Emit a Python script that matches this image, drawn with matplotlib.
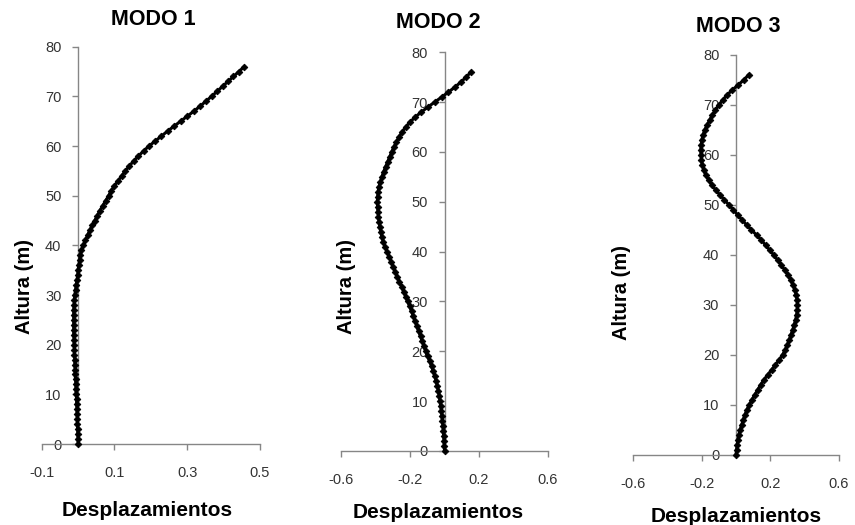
import numpy as np
import matplotlib
matplotlib.use("Agg")
import matplotlib.pyplot as plt

plt.rcParams['font.family'] = ['Liberation Sans', 'DejaVu Sans']

# alturas (m)
altura = list(range(77))

# desplazamientos modales
modo1 = [0.000, -0.000, -0.001, -0.001, -0.002, -0.002, -0.003, -0.003, -0.004, -0.004,
         -0.005, -0.006, -0.006, -0.007, -0.008, -0.008, -0.009, -0.009, -0.010, -0.010,
         -0.011, -0.011, -0.012, -0.012, -0.012, -0.012, -0.012, -0.012, -0.011, -0.010,
         -0.009, -0.007, -0.005, -0.003, -0.001, 0.000, 0.002, 0.004, 0.006, 0.009,
         0.014, 0.020, 0.026, 0.032, 0.039, 0.046, 0.053, 0.060, 0.068, 0.076,
         0.084, 0.091, 0.100, 0.110, 0.120, 0.130, 0.141, 0.153, 0.166, 0.180,
         0.195, 0.212, 0.229, 0.246, 0.264, 0.282, 0.300, 0.318, 0.335, 0.351,
         0.367, 0.382, 0.397, 0.412, 0.427, 0.442, 0.457]

modo2 = [0.000, -0.001, -0.003, -0.005, -0.007, -0.009, -0.012, -0.015, -0.018, -0.022,
         -0.026, -0.030, -0.035, -0.041, -0.048, -0.056, -0.065, -0.075, -0.086, -0.098,
         -0.109, -0.119, -0.129, -0.139, -0.150, -0.160, -0.170, -0.180, -0.191, -0.202,
         -0.213, -0.225, -0.237, -0.249, -0.261, -0.273, -0.285, -0.297, -0.309, -0.321,
         -0.333, -0.345, -0.355, -0.363, -0.370, -0.375, -0.379, -0.383, -0.386, -0.388,
         -0.389, -0.388, -0.385, -0.380, -0.372, -0.363, -0.353, -0.342, -0.330, -0.318,
         -0.306, -0.293, -0.279, -0.264, -0.246, -0.225, -0.200, -0.170, -0.135, -0.097,
         -0.057, -0.017, 0.022, 0.060, 0.094, 0.125, 0.152]

modo3 = [0.000, 0.003, 0.007, 0.011, 0.016, 0.024, 0.033, 0.042, 0.052, 0.063,
         0.077, 0.092, 0.109, 0.126, 0.143, 0.162, 0.184, 0.207, 0.229, 0.251,
         0.271, 0.286, 0.299, 0.310, 0.320, 0.330, 0.339, 0.347, 0.353, 0.357,
         0.358, 0.356, 0.351, 0.343, 0.332, 0.318, 0.302, 0.284, 0.264, 0.242,
         0.220, 0.196, 0.172, 0.147, 0.120, 0.090, 0.062, 0.036, 0.010, -0.015,
         -0.040, -0.067, -0.093, -0.118, -0.141, -0.160, -0.176, -0.188, -0.196, -0.201,
         -0.204, -0.205, -0.203, -0.199, -0.192, -0.182, -0.168, -0.153, -0.138, -0.120,
         -0.100, -0.077, -0.052, -0.022, 0.012, 0.045, 0.073]

titulos = ['MODO 1', 'MODO 2', 'MODO 3']
xticks = [[-0.1, 0.1, 0.3, 0.5], [-0.6, -0.2, 0.2, 0.6], [-0.6, -0.2, 0.2, 0.6]]
xlims = [(-0.1, 0.5), (-0.6, 0.6), (-0.6, 0.6)]
yticks = list(range(0, 81, 10))

W, H = 855, 525
# (left, top, right, bottom) del area de trazado en pixeles
rects = [(41.7, 46.7, 260, 444), (341, 52.3, 548, 451), (633, 55, 839, 455)]
title_pos = [(153, 19.5), (438, 22), (738, 26)]
xlab_pos = [(147, 510), (438, 512), (736, 517)]
ylab_pos = [(25, 287), (346, 286), (621, 292)]

fig = plt.figure(figsize=(W / 100, H / 100), dpi=100)
spine_col = '#868686'
text_col = '#333333'

for i, datos in enumerate([modo1, modo2, modo3]):
    l, t, r, b = rects[i]
    ax = fig.add_axes([l / W, 1 - b / H, (r - l) / W, (b - t) / H])
    ax.plot(datos, altura, color='black', lw=2.2, marker='D', markersize=3.4,
            markeredgewidth=0.6, clip_on=False, zorder=3)
    ax.set_xlim(*xlims[i])
    ax.set_ylim(0, 80)
    ax.set_xticks(xticks[i])
    ax.set_xticklabels(['%g' % v for v in xticks[i]])
    ax.set_yticks(yticks)
    ax.spines['top'].set_visible(False)
    ax.spines['right'].set_visible(False)
    ax.spines['left'].set_position(('data', 0))
    for s in ['left', 'bottom']:
        ax.spines[s].set_color(spine_col)
        ax.spines[s].set_linewidth(1.0)
    ax.tick_params(axis='x', direction='out', length=4, width=1, color=spine_col,
                   pad=12, labelsize=10.5, labelcolor=text_col)
    ax.tick_params(axis='y', direction='out', length=4, width=1, color=spine_col,
                   pad=8, labelsize=10.5, labelcolor=text_col)
    ax.patch.set_visible(False)

    fig.text(title_pos[i][0] / W, 1 - title_pos[i][1] / H, titulos[i],
             ha='center', va='center', fontsize=15.5, fontweight='bold')
    fig.text(xlab_pos[i][0] / W, 1 - xlab_pos[i][1] / H, 'Desplazamientos',
             ha='center', va='center', fontsize=15, fontweight='bold')
    fig.text(ylab_pos[i][0] / W, 1 - ylab_pos[i][1] / H, 'Altura (m)',
             ha='center', va='center', fontsize=14.5, fontweight='bold', rotation=90)

plt.savefig('out.png', dpi=100)
